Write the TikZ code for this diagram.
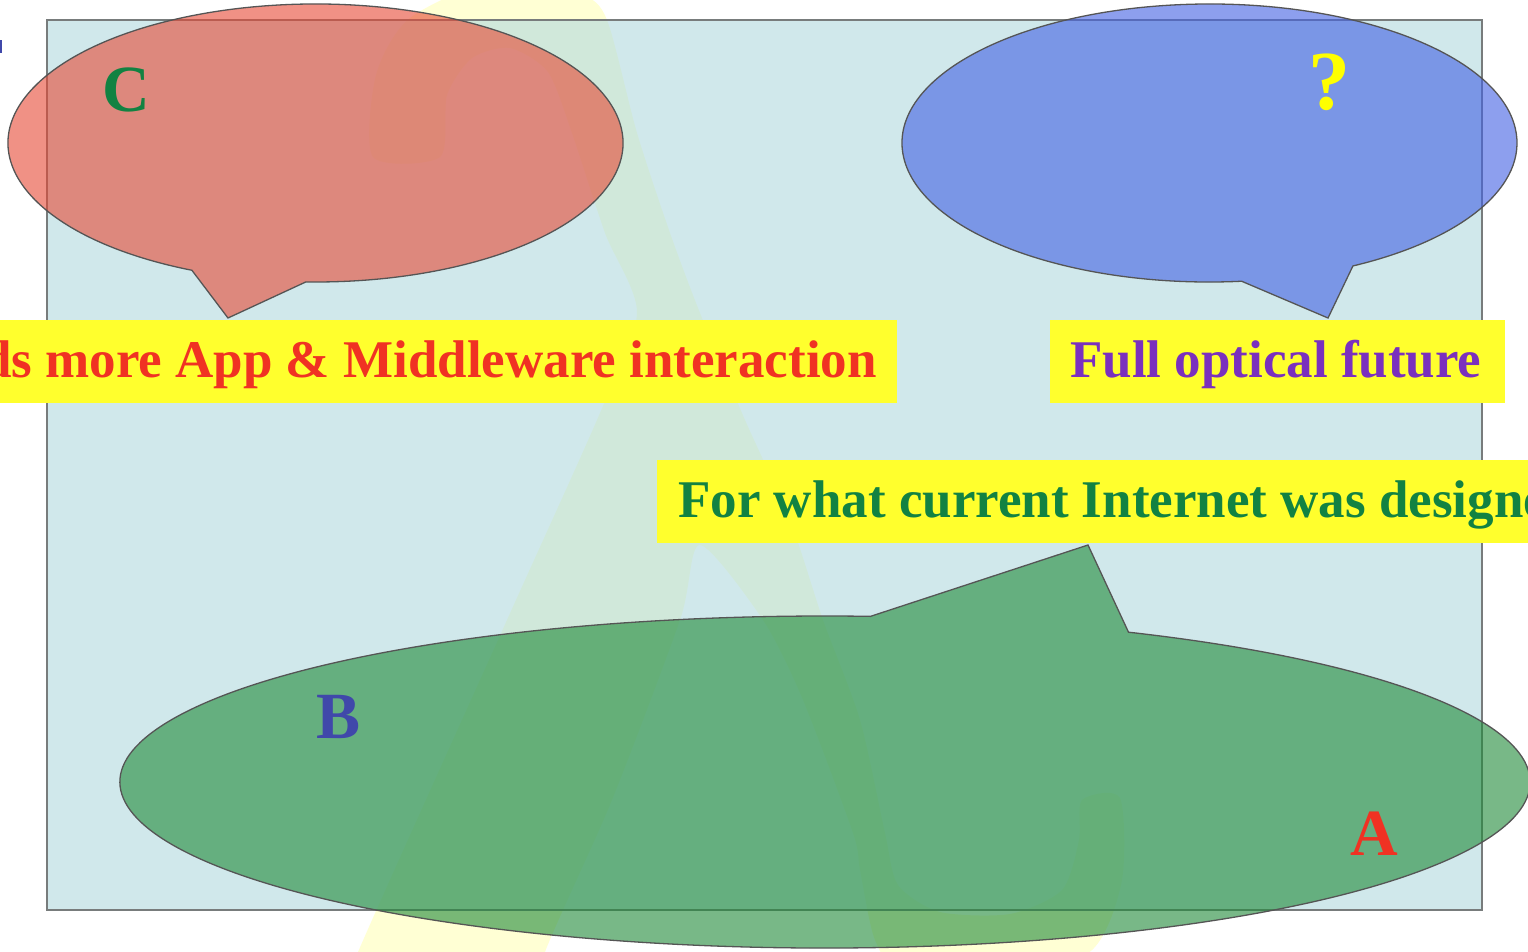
\documentclass[tikz,border=0pt]{standalone}
\usepackage{fontspec}
\setmainfont{Liberation Serif}
\definecolor{panelfill}{RGB}{178,218,222}
\definecolor{panelline}{RGB}{120,124,124}
\definecolor{lambdafill}{RGB}{255,255,212}
\definecolor{redfill}{RGB}{230,72,52}
\definecolor{bluefill}{RGB}{66,96,228}
\definecolor{greenfill}{RGB}{30,138,56}
\definecolor{outline}{RGB}{85,85,85}
\definecolor{tagfill}{RGB}{255,255,45}
\definecolor{txtred}{RGB}{240,50,35}
\definecolor{txtpurple}{RGB}{122,48,190}
\definecolor{txtgreen}{RGB}{18,130,66}
\definecolor{txtblue}{RGB}{64,72,170}
\definecolor{txtyellow}{RGB}{255,255,0}
\newcommand{\tagfont}{\fontsize{53}{60}\selectfont\bfseries}
\newcommand{\bigletter}{\fontsize{66}{70}\selectfont\bfseries}
\begin{document}
\begin{tikzpicture}[x=1pt,y=-1pt,
  callout/.style={draw=outline,line width=1.3pt,fill opacity=0.6},
  tagbox/.style={fill=tagfill},
  tagtext/.style={inner sep=0pt,anchor=base west,font=\tagfont},
  letter/.style={inner sep=0pt,font=\bigletter}]
\useasboundingbox (0,0) rectangle (1528,952);
\clip (0,0) rectangle (1528,952);
\fill[white] (0,0) rectangle (1528,952);

% faint lambda in the background
\fill[lambdafill] plot[smooth cycle, tension=0.45] coordinates {
  (373,157) (376,75) (410,18) (500,-22) (580,-6) (607,20) (637,133) (670,233)
  (700,313) (745,420) (790,520) (823,620) (860,720) (885,833) (898,885)
  (940,912) (1010,914) (1062,890) (1079,840) (1082,800) (1120,798)
  (1122,880) (1092,950) (1000,990) (905,978) (875,940) (860,870)
  (853,833) (803,700) (763,620) (700,545) (680,620) (612,800) (545,952)
  (535,1010) (340,1010) (358,952) (507,620) (600,413) (637,313)
  (605,233) (572,133) (548,72) (510,48) (472,58) (447,95) (440,157)};

% panel
\fill[panelfill,fill opacity=0.6] (47,20) rectangle (1482,910);
\draw[panelline,line width=1.5pt] (47,20) rectangle (1482,910);

% red callout
\coordinate (rc) at (315.5,143);
\path (rc) ++(113.7:307.5 and 139) coordinate (rL);
\path (rc) ++(91.8:307.5 and 139) coordinate (rR);
\coordinate (rT) at (228,318);
\draw[callout,fill=redfill] (rT) -- (rL)
  arc[start angle=113.7,end angle=451.8,x radius=307.5,y radius=139] -- cycle;

% blue callout
\coordinate (bc) at (1209.5,143);
\path (bc) ++(84:307.5 and 139) coordinate (bL);
\path (bc) ++(62.2:307.5 and 139) coordinate (bR);
\coordinate (bT) at (1328,318);
\draw[callout,fill=bluefill] (bT) -- (bL)
  arc[start angle=84,end angle=422.2,x radius=307.5,y radius=139] -- cycle;

% green callout
\coordinate (gc) at (825,782);
\path (gc) ++(295.5:705 and 166) coordinate (gR);
\path (gc) ++(273.7:705 and 166) coordinate (gL);
\coordinate (gT) at (1088,545);
\draw[callout,fill=greenfill] (gT) -- (gR)
  arc[start angle=295.5,end angle=633.7,x radius=705,y radius=166] -- cycle;

% tag boxes
\fill[tagbox] (-5,320) rectangle (897,403);
\fill[tagbox] (1050,320) rectangle (1505,403);
\fill[tagbox] (657,460) rectangle (1540,543);

\node[tagtext,anchor=base east,text=txtred] (needs) at (877,377) {ds more App \& Middleware interaction};
\node[tagtext,text=txtpurple] (optical) at (1070,377) {Full optical future};
\node[tagtext,text=txtgreen] (current) at (678,517) {For what current Internet was designed};

% letters
\node[letter,text=txtgreen] (C) at (126,90) {C};
\node[letter,text=txtyellow,font=\fontsize{84}{90}\selectfont\bfseries] (Q) at (1329,82) {?};
\node[letter,text=txtblue] (B) at (339,717) {B};
\node[letter,text=txtred] (A) at (1374,834) {A};
\fill[txtblue] (0,40) rectangle (1.5,53);
\end{tikzpicture}
\end{document}
